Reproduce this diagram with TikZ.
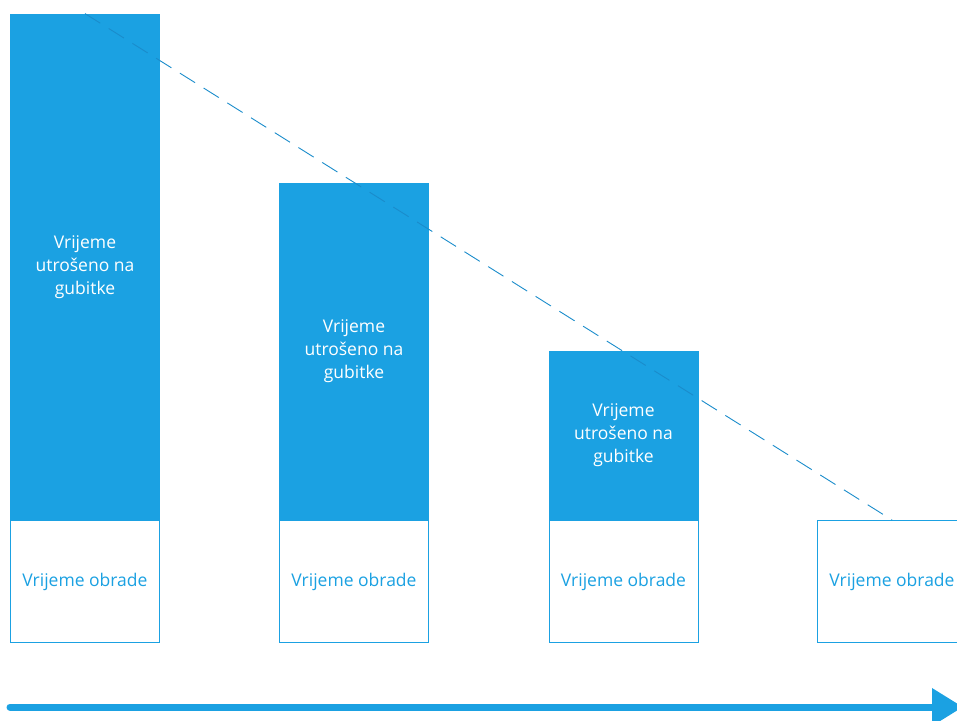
\documentclass[tikz,border=0pt]{standalone}
\usepackage{fontspec}
\setmainfont{Open Sans}
\usetikzlibrary{arrows.meta}
\definecolor{mblue}{HTML}{1BA1E2}
\definecolor{dblue}{HTML}{1A8CCB}
\begin{document}
\begin{tikzpicture}[x=1pt,y=-1pt,
  txt/.style={font=\fontsize{17.5}{23}\selectfont},
  lossbox/.style={txt, fill=mblue, draw=none, minimum width=150pt, anchor=south, inner sep=0pt, text=white, align=center},
  procbox/.style={txt, fill=white, draw=mblue, line width=0.9pt, minimum width=149pt, minimum height=122pt, anchor=north, inner sep=0pt, text=mblue},
  trend/.style={dblue, line width=0.9pt, dash pattern=on 18pt off 10pt},
  timeline/.style={mblue, line width=7pt, line cap=round, -{Triangle[length=31pt,width=36pt]}}]
\useasboundingbox (0,0) rectangle (957,720);
\node[lossbox, minimum height=506pt] (l1) at (85,520) {Vrijeme\\utrošeno na\\gubitke};
\node[lossbox, minimum height=337pt] (l2) at (354,520) {Vrijeme\\utrošeno na\\gubitke};
\node[lossbox, minimum height=169pt] (l3) at (623.5,520) {Vrijeme\\utrošeno na\\gubitke};
\node[procbox] (p1) at (85,520) {Vrijeme obrade};
\node[procbox] (p2) at (354,520) {Vrijeme obrade};
\node[procbox] (p3) at (623.5,520) {Vrijeme obrade};
\node[procbox] (p4) at (892,520) {Vrijeme obrade};
\draw[trend] (l1.north) -- (p4.north);
\coordinate (as) at (10,707);
\coordinate (ae) at (963,707);
\draw[timeline] (as) -- (ae);
\end{tikzpicture}
\end{document}
